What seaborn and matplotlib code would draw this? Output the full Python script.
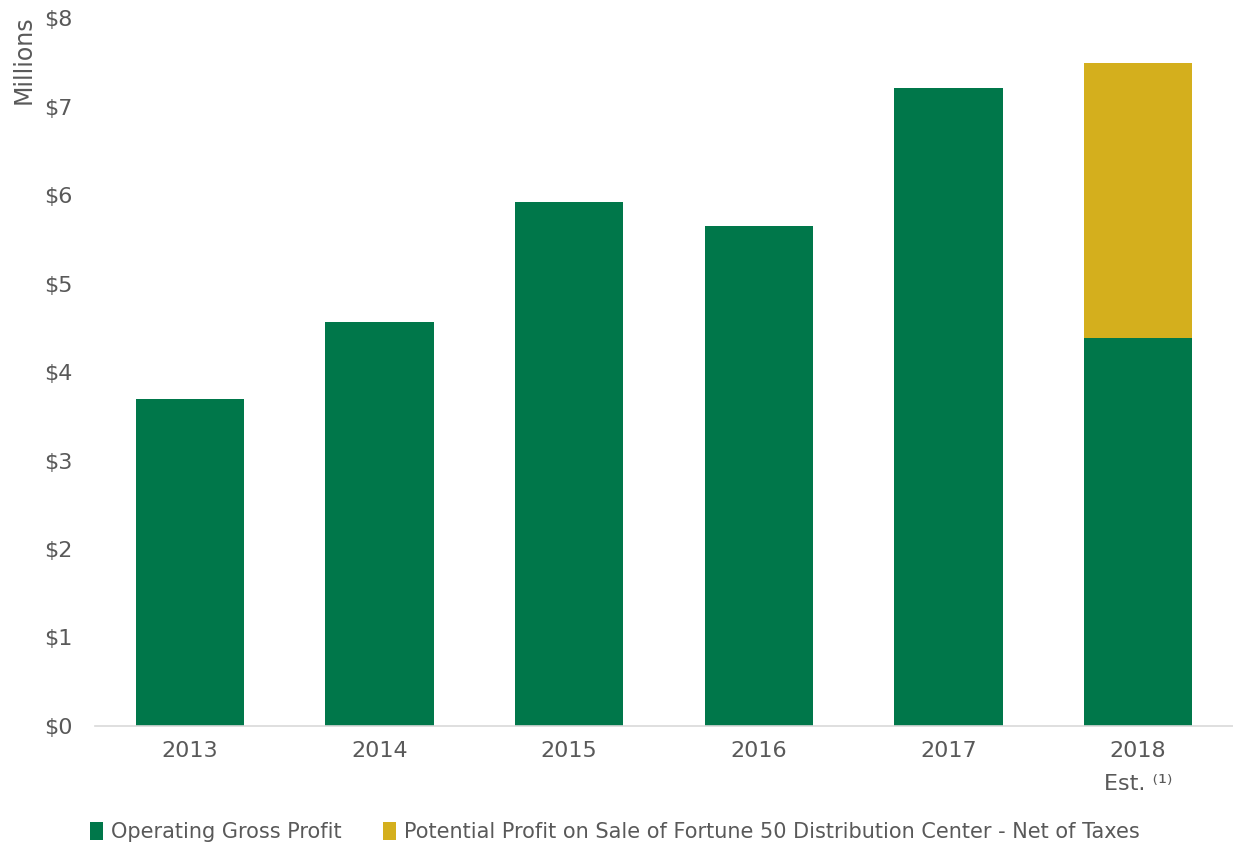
import matplotlib
matplotlib.use("Agg")
import matplotlib.pyplot as plt
from matplotlib.patches import Patch
import seaborn as sns
import pandas as pd

years = ["2013", "2014", "2015", "2016", "2017", "2018\nEst. ⁽¹⁾"]
operating_gross_profit = [3.69, 4.56, 5.92, 5.65, 7.21, 4.38]
potential_sale_profit = [0.0, 0.0, 0.0, 0.0, 0.0, 3.11]
series_labels = ["Operating Gross Profit",
                 "Potential Profit on Sale of Fortune 50 Distribution Center - Net of Taxes"]
ytick_values = [0, 1, 2, 3, 4, 5, 6, 7, 8]

GREEN = "#00774A"
GOLD = "#D4AF1D"
GREY = "#595959"

sns.set_theme(style="white")
plt.rcParams["font.family"] = ["DejaVu Sans"]

df = pd.DataFrame({
    "year": years,
    "green": operating_gross_profit,
    "total": [g + p for g, p in zip(operating_gross_profit, potential_sale_profit)],
})

fig = plt.figure(figsize=(12.33, 8.51), dpi=100)
ax = fig.add_axes([0.077, 0.1469, 0.923, 0.8319])

sns.barplot(data=df, x="year", y="total", color=GOLD, width=0.57,
            saturation=1, ax=ax, order=years, linewidth=0, edgecolor="none")
sns.barplot(data=df, x="year", y="green", color=GREEN, width=0.57,
            saturation=1, ax=ax, order=years, linewidth=0, edgecolor="none")

ax.set_xlim(-0.5, 5.5)
ax.set_ylim(0, 8)
ax.set_yticks(ytick_values)
ax.set_yticklabels([f"${v}" for v in ytick_values])
ax.set_xlabel("")
ax.set_ylabel("")

for side in ["top", "right", "left"]:
    ax.spines[side].set_visible(False)
ax.spines["bottom"].set_color("#D9D9D9")
ax.spines["bottom"].set_linewidth(1.2)
ax.tick_params(axis="both", length=0, colors=GREY, labelsize=16)
ax.tick_params(axis="y", pad=16)
ax.tick_params(axis="x", pad=11)
for lbl in ax.get_xticklabels():
    lbl.set_linespacing(1.8)
ax.grid(False)

fig.text(0.019, 0.982, "Millions", rotation=90, ha="center", va="top",
         fontsize=17, color=GREY)

handles = [Patch(facecolor=GREEN, edgecolor="none"),
           Patch(facecolor=GOLD, edgecolor="none")]
fig.legend(handles, series_labels, loc="center left",
           bbox_to_anchor=(0.058, 0.022), ncol=2, frameon=False,
           fontsize=15, labelcolor=GREY, handlelength=0.6, handleheight=0.9,
           handletextpad=0.4, columnspacing=2.0)

fig.savefig("out.png", dpi=100)
